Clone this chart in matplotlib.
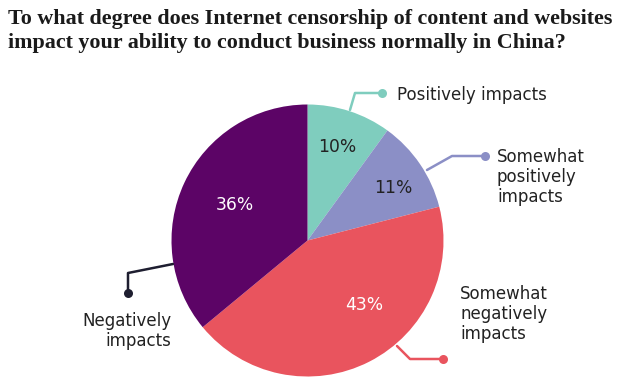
import matplotlib
matplotlib.use("Agg")
import matplotlib.pyplot as plt

categories = ["Positively impacts", "Somewhat\npositively\nimpacts",
              "Somewhat\nnegatively\nimpacts", "Negatively\nimpacts"]
values = [10, 11, 43, 36]
colors = ["#7fcdbe", "#8b8fc6", "#e9545e", "#5c0466"]
pct_colors = ["#222222", "#222222", "white", "white"]
line_colors = ["#7fcdbe", "#8b8fc6", "#e9545e", "#1e1e30"]

W, H = 634, 385
fig = plt.figure(figsize=(W / 100, H / 100), dpi=100)
ax = fig.add_axes([0, 0, 1, 1])

cx, cy, r = 307.5, H - 240.5, 136

wedges, _ = ax.pie(values, colors=colors, startangle=90, counterclock=False,
                   center=(cx, cy), radius=r,
                   wedgeprops=dict(linewidth=0))
ax.set_xlim(0, W)
ax.set_ylim(0, H)
ax.set_aspect("equal")
ax.axis("off")

def P(x, y):
    return (x, H - y)

SANS = "DejaVu Sans"

# percentage labels (pixel positions from the reference)
pct_pos = [(337, 147), (393, 188), (364, 305), (235, 205)]
for v, (x, y), c in zip(values, pct_pos, pct_colors):
    ax.text(*P(x, y), f"{v}%", ha="center", va="center", color=c,
            fontsize=12.3, family=SANS)

# leader lines: polyline points then dot at end
leaders = [
    [(350, 110), (355, 93), (382, 93)],
    [(427, 170), (452, 156), (485, 156)],
    [(397, 346), (410, 359), (443, 359)],
    [(173, 264), (128, 273), (128, 293)],
]
for pts, c in zip(leaders, line_colors):
    xs = [P(*p)[0] for p in pts]
    ys = [P(*p)[1] for p in pts]
    ax.plot(xs, ys, color=c, lw=1.8, solid_capstyle="round")
    ax.plot(xs[-1], ys[-1], "o", color=c, ms=6.5, mec="none")

label_pos = [((397, 95), "left"),
             ((497, 177), "left"),
             ((460, 314), "left"),
             ((171, 331), "right")]
for lab, ((x, y), ha) in zip(categories, label_pos):
    ax.text(*P(x, y), lab, ha=ha, va="center", color="#222222", fontsize=12,
            family=SANS, linespacing=1.12, multialignment=ha)

title = ("To what degree does Internet censorship of content and websites\n"
         "impact your ability to conduct business normally in China?")
ax.text(*P(8, 9), title, ha="left", va="top", fontsize=15.8,
        fontweight="bold", family="Liberation Serif", color="#1a1a1a",
        linespacing=1.25)

fig.savefig("out.png", dpi=100)
